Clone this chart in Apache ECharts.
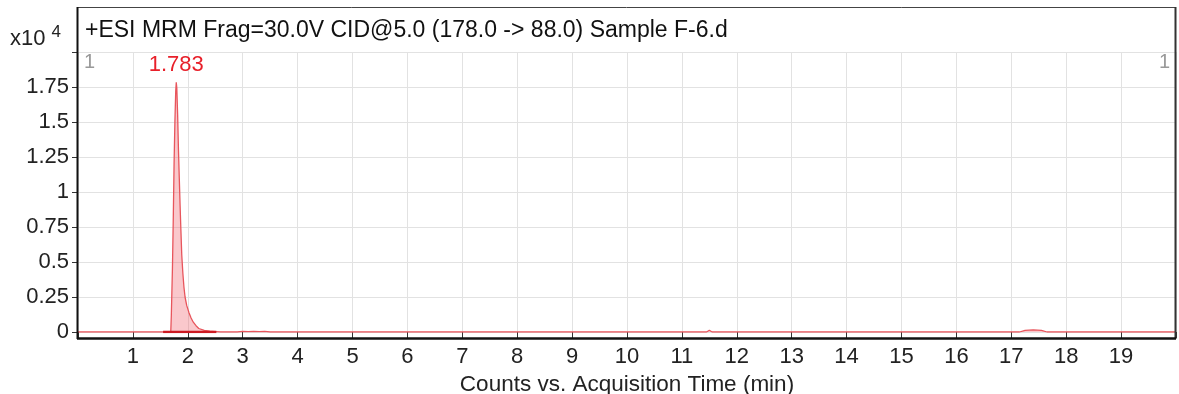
<!DOCTYPE html>
<html>
<head>
<meta charset="utf-8">
<script src="https://cdn.jsdelivr.net/npm/echarts@6/dist/echarts.min.js"></script>
<style>
  html, body { margin: 0; padding: 0; background: #fff; }
  #chart { width: 1179px; height: 394px; }
</style>
</head>
<body>
<div id="chart"></div>
<script>
// Acquisition time (min) and counts (x10^4) for the MRM transition 178.0 -> 88.0
const times = [
  0, 0.5, 1.0, 1.5, 1.6, 1.65, 1.69, 1.70, 1.72, 1.735, 1.75, 1.765, 1.78, 1.79,
  1.80, 1.815, 1.83, 1.845, 1.86, 1.875, 1.89, 1.91, 1.93, 1.95, 1.98, 2.02,
  2.06, 2.10, 2.15, 2.20, 2.30, 2.40, 2.50, 2.60, 2.90, 3.00, 3.10, 3.20, 3.30,
  3.40, 3.50, 5, 8, 11.0, 11.45, 11.5, 11.55, 14, 17.15, 17.25, 17.4, 17.55,
  17.65, 18.5, 20
];
const counts = [
  0, 0, 0, 0, 0, 0.002, 0.004, 0.12, 0.45, 0.80, 1.20, 1.50, 1.72, 1.783,
  1.74, 1.55, 1.30, 1.10, 0.90, 0.72, 0.55, 0.42, 0.32, 0.25, 0.19, 0.14,
  0.10, 0.07, 0.045, 0.025, 0.012, 0.006, 0.003, 0, 0, 0.004, 0.002, 0.005, 0.003,
  0.004, 0, 0, 0, 0, 0, 0.012, 0, 0, 0, 0.012, 0.015, 0.012,
  0, 0, 0
];
// Integration baseline under the main peak (start, end in min)
const baselineTimes = [1.55, 2.52];

const xTicks = [1, 2, 3, 4, 5, 6, 7, 8, 9, 10, 11, 12, 13, 14, 15, 16, 17, 18, 19];
const yTicks = [0, 0.25, 0.5, 0.75, 1, 1.25, 1.5, 1.75];

const titleText = '+ESI MRM Frag=30.0V CID@5.0 (178.0 -> 88.0) Sample F-6.d';
const xName = 'Counts vs. Acquisition Time (min)';

const FONT = "'Liberation Sans', Arial, sans-serif";

const chart = echarts.init(document.getElementById('chart'), null, { renderer: 'canvas' });

const option = {
  backgroundColor: '#ffffff',
  animation: false,
  textStyle: { fontFamily: FONT },
  grid: { left: 78, right: 3, top: 52, bottom: 62, containLabel: false, outerBoundsMode: 'none' },
  xAxis: {
    type: 'value',
    min: 0,
    max: 20,
    interval: 1,
    offset: 6,
    axisLine: { show: false },
    axisTick: { show: true, length: 6, lineStyle: { color: '#333', width: 1 } },
    axisLabel: {
      color: '#222', fontSize: 22, fontFamily: FONT, margin: 8,
      formatter: v => (xTicks.indexOf(v) >= 0 ? String(v) : '')
    },
    splitLine: { show: true, lineStyle: { color: '#e2e2e2', width: 1 } },
    name: xName,
    nameLocation: 'middle',
    nameGap: 34,
    nameTextStyle: { color: '#222', fontSize: 22.5, fontFamily: FONT }
  },
  yAxis: {
    type: 'value',
    min: 0,
    max: 2,
    interval: 0.25,
    axisLine: { show: false },
    axisTick: { show: true, length: 6, lineStyle: { color: '#333', width: 1 } },
    axisLabel: {
      color: '#222', fontSize: 22, fontFamily: FONT, margin: 9,
      formatter: v => (yTicks.indexOf(v) >= 0 ? String(v) : '')
    },
    splitLine: { show: true, lineStyle: { color: '#e2e2e2', width: 1 } }
  },
  series: [
    {
      type: 'line',
      data: times.map((t, i) => [t, counts[i]]),
      symbol: 'none',
      lineStyle: { color: '#e8555c', width: 1.3 },
      areaStyle: { color: 'rgba(240, 100, 110, 0.5)', origin: 0 },
      z: 3,
      markPoint: {
        symbol: 'circle',
        symbolSize: 0,
        data: [{ type: 'max' }],
        label: {
          show: true,
          position: 'top',
          distance: 6,
          color: '#e8202a',
          fontSize: 22,
          fontFamily: FONT,
          formatter: p => p.value.toFixed(3)
        }
      }
    },
    {
      type: 'line',
      data: baselineTimes.map(t => [t, 0]),
      symbol: 'none',
      lineStyle: { color: '#cc1a22', width: 2.5 },
      z: 4
    }
  ],
  graphic: [
    // frame around the title strip and plot
    { type: 'line', shape: { x1: 77, y1: 7.5, x2: 1176, y2: 7.5 }, style: { stroke: '#444', lineWidth: 1 }, z: 10 },
    { type: 'line', shape: { x1: 77.5, y1: 7, x2: 77.5, y2: 339 }, style: { stroke: '#111', lineWidth: 2 }, z: 10 },
    { type: 'line', shape: { x1: 1175.5, y1: 7, x2: 1175.5, y2: 339 }, style: { stroke: '#333', lineWidth: 2 }, z: 10 },
    { type: 'line', shape: { x1: 77, y1: 338.5, x2: 1176, y2: 338.5 }, style: { stroke: '#111', lineWidth: 2.5 }, z: 10 },
    // title line
    {
      type: 'text', left: 85, top: 19, z: 10,
      style: { text: titleText, fill: '#111', font: '23px ' + FONT }
    },
    // multiplier of the y-axis
    {
      type: 'text', left: 10, top: 24, z: 10,
      style: {
        text: 'x10 {s|4}', fill: '#222', font: '22px ' + FONT,
        rich: { s: { fontSize: 17, fontFamily: FONT, fill: '#222', verticalAlign: 'top', padding: [0, 0, 12, 0] } }
      }
    },
    // plot index markers
    { type: 'text', left: 84, top: 52, z: 10, style: { text: '1', fill: '#999', font: '20px ' + FONT } },
    { type: 'text', right: 9, top: 52, z: 10, style: { text: '1', fill: '#999', font: '20px ' + FONT } }
  ]
};

chart.setOption(option);
</script>
</body>
</html>
